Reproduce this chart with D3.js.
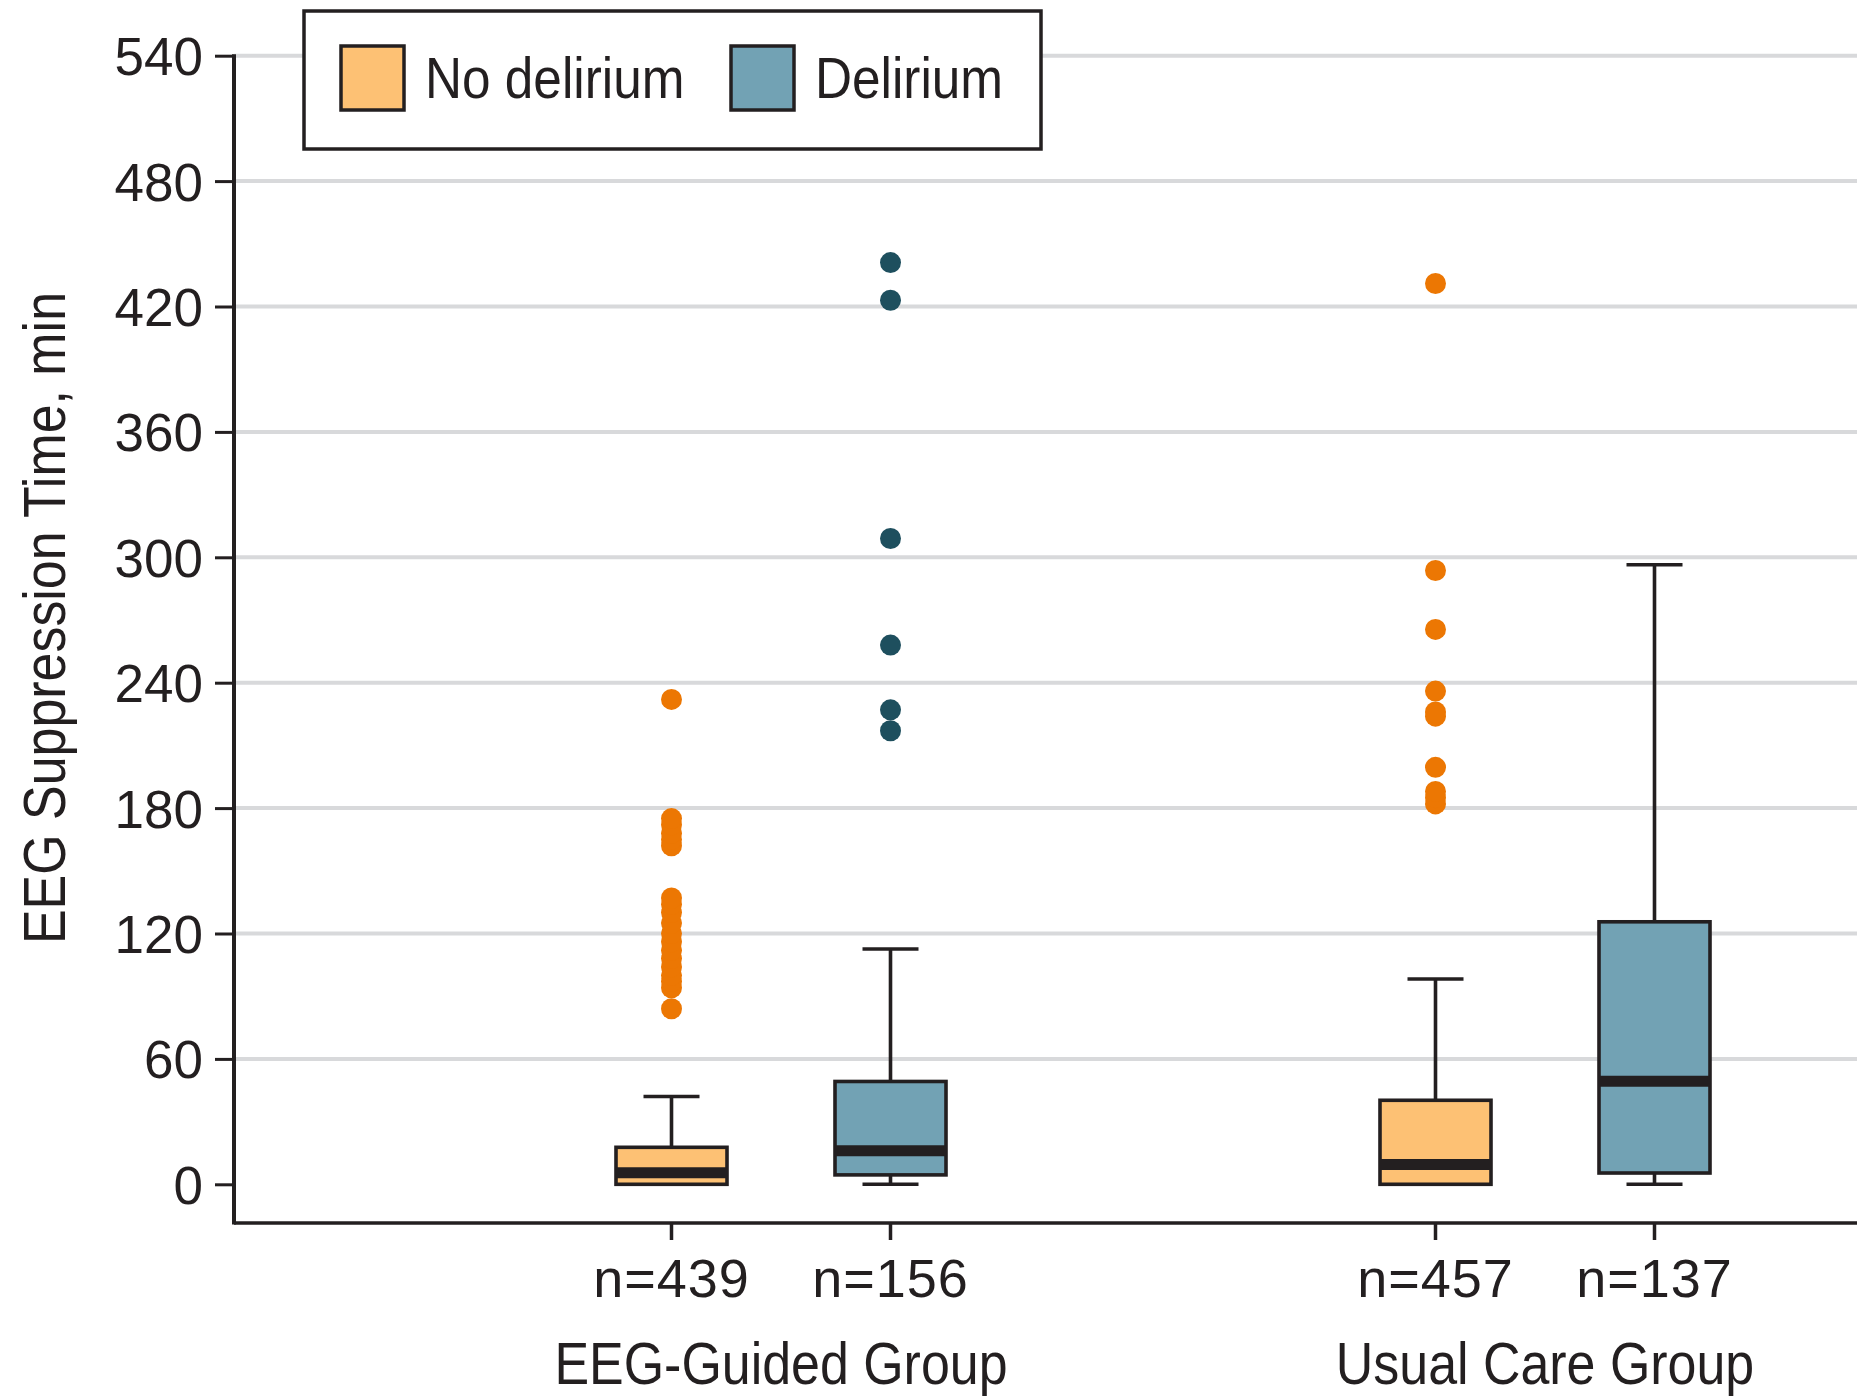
<!DOCTYPE html>
<html>
<head>
<meta charset="utf-8">
<script src="https://cdn.jsdelivr.net/npm/d3@7"></script>
<style>
  html, body { margin: 0; padding: 0; background: #fff; }
  svg { display: block; }
  text { font-family: "Liberation Sans", Arial, sans-serif; fill: #231f20; }
</style>
</head>
<body>
<svg id="chart" width="1857" height="1397"></svg>
<script>
// ---------------- data ----------------
const groups = ["EEG-Guided Group", "Usual Care Group"];
const series = ["No delirium", "Delirium"];
const nLabels = [["n=439", "n=156"], ["n=457", "n=137"]];
const yTicks = [0, 60, 120, 180, 240, 300, 360, 420, 480, 540];

// box statistics per group, in series order [No delirium, Delirium]
const whiskerLow  = [[0, 0], [0, 0]];
const q1          = [[0, 4.5], [0, 5.4]];
const medians     = [[5.5, 16], [9.5, 49.3]];
const q3          = [[17.7, 49.2], [40.2, 125.6]];
const whiskerHigh = [[42, 112.6], [98.2, 296.4]];

const outliersEEGNo   = [84, 94, 97, 100, 104, 108, 112, 116, 120, 125, 130, 134, 137, 162, 165, 168, 172, 175, 232];
const outliersEEGDel  = [217, 227, 258, 309, 423, 441];
const outliersUsualNo = [182, 185, 188, 199.5, 224, 226, 236, 265.5, 293.7, 431];
const outliersUsualDel = [];
const outliers = [[outliersEEGNo, outliersEEGDel], [outliersUsualNo, outliersUsualDel]];

// ---------------- styles ----------------
const fills = { "No delirium": "#fdc174", "Delirium": "#72a2b4" };
const dotFills = { "No delirium": "#ec7703", "Delirium": "#1e4f5e" };
const ink = "#231f20";
const gridColor = "#d8d9db";
const condensed = 0.88;   // horizontal squeeze for the condensed label face
const sw = 3.6;           // main stroke width

// ---------------- layout ----------------
const svg = d3.select("#chart");
const axisX = 234;          // y axis position
const axisBottom = 1223;    // x axis position
const rightEdge = 1857;

const y = d3.scaleLinear().domain([0, 540]).range([1184.3, 55.7]);
const x0 = d3.scaleBand().domain(groups).range([399, 1927]).padding(0);
const x1 = d3.scalePoint().domain(series).range([-109.5, 109.5]);
const cx = (g, s) => x0(g) + x0.bandwidth() / 2 + x1(s);

const boxW = 111, capW = 56;

// gridlines
svg.append("g").selectAll("line")
  .data(yTicks.filter(d => d > 0))
  .join("line")
  .attr("x1", axisX).attr("x2", rightEdge)
  .attr("y1", d => y(d)).attr("y2", d => y(d))
  .attr("stroke", gridColor).attr("stroke-width", 4);

// y axis
const yAxis = d3.axisLeft(y).tickValues(yTicks).tickSize(19).tickPadding(12).tickSizeOuter(0);
const yg = svg.append("g").attr("transform", `translate(${axisX},0)`).call(yAxis);
yg.select(".domain").remove();
yg.selectAll(".tick line").attr("stroke", ink).attr("stroke-width", 3);
yg.selectAll(".tick text")
  .attr("fill", ink)
  .style("font-size", "53px")
  .attr("dy", "0.36em");
svg.append("line")
  .attr("x1", axisX).attr("x2", axisX)
  .attr("y1", y(540) - 1.5).attr("y2", axisBottom + 1.5)
  .attr("stroke", ink).attr("stroke-width", 4);

// x axis line
svg.append("line")
  .attr("x1", axisX).attr("x2", rightEdge)
  .attr("y1", axisBottom).attr("y2", axisBottom)
  .attr("stroke", ink).attr("stroke-width", 3.5);

// flatten boxes
const boxes = [];
groups.forEach((g, gi) => series.forEach((s, si) => {
  boxes.push({
    g, s, n: nLabels[gi][si],
    lo: whiskerLow[gi][si], q1: q1[gi][si], med: medians[gi][si],
    q3: q3[gi][si], hi: whiskerHigh[gi][si], out: outliers[gi][si]
  });
}));

// x ticks + n labels
const xt = svg.append("g");
xt.selectAll("line").data(boxes).join("line")
  .attr("x1", d => cx(d.g, d.s)).attr("x2", d => cx(d.g, d.s))
  .attr("y1", axisBottom).attr("y2", axisBottom + 17)
  .attr("stroke", ink).attr("stroke-width", 3.5);
xt.selectAll("text").data(boxes).join("text")
  .attr("x", d => cx(d.g, d.s)).attr("y", 1297)
  .attr("text-anchor", "middle")
  .style("font-size", "54px")
  .style("letter-spacing", "1px")
  .text(d => d.n);

// group labels (condensed)
svg.append("g").selectAll("text").data(groups).join("text")
  .attr("transform", g => `translate(${x0(g) + x0.bandwidth() / 2},1384) scale(${condensed},1)`)
  .attr("text-anchor", "middle")
  .style("font-size", "59px")
  .text(g => g);

// boxes
const bg = svg.append("g").selectAll("g").data(boxes).join("g");
bg.append("line")
  .attr("x1", d => cx(d.g, d.s)).attr("x2", d => cx(d.g, d.s))
  .attr("y1", d => y(d.hi)).attr("y2", d => y(d.q3))
  .attr("stroke", ink).attr("stroke-width", sw);
bg.append("line")
  .attr("x1", d => cx(d.g, d.s)).attr("x2", d => cx(d.g, d.s))
  .attr("y1", d => y(d.q1)).attr("y2", d => y(d.lo))
  .attr("stroke", ink).attr("stroke-width", sw);
bg.append("line")
  .attr("x1", d => cx(d.g, d.s) - capW / 2).attr("x2", d => cx(d.g, d.s) + capW / 2)
  .attr("y1", d => y(d.hi)).attr("y2", d => y(d.hi))
  .attr("stroke", ink).attr("stroke-width", sw);
bg.filter(d => d.q1 > d.lo).append("line")
  .attr("x1", d => cx(d.g, d.s) - capW / 2).attr("x2", d => cx(d.g, d.s) + capW / 2)
  .attr("y1", d => y(d.lo)).attr("y2", d => y(d.lo))
  .attr("stroke", ink).attr("stroke-width", sw);
bg.append("rect")
  .attr("x", d => cx(d.g, d.s) - boxW / 2)
  .attr("width", boxW)
  .attr("y", d => y(d.q3))
  .attr("height", d => y(d.q1) - y(d.q3))
  .attr("fill", d => fills[d.s])
  .attr("stroke", ink).attr("stroke-width", sw);
bg.append("line")
  .attr("x1", d => cx(d.g, d.s) - boxW / 2).attr("x2", d => cx(d.g, d.s) + boxW / 2)
  .attr("y1", d => y(d.med)).attr("y2", d => y(d.med))
  .attr("stroke", ink).attr("stroke-width", 11);
bg.selectAll("circle").data(d => d.out.map(v => ({ v, d }))).join("circle")
  .attr("cx", o => cx(o.d.g, o.d.s))
  .attr("cy", o => y(o.v))
  .attr("r", 10.5)
  .attr("fill", o => dotFills[o.d.s]);

// legend
const lg = svg.append("g");
lg.append("rect")
  .attr("x", 304).attr("y", 11).attr("width", 737).attr("height", 138)
  .attr("fill", "#fff").attr("stroke", ink).attr("stroke-width", 3.5);
const legendX = d3.scaleOrdinal().domain(series).range([341, 731]);
const li = lg.selectAll("g.item").data(series).join("g").attr("class", "item")
  .attr("transform", s => `translate(${legendX(s)},46)`);
li.append("rect")
  .attr("width", 63).attr("height", 64)
  .attr("fill", s => fills[s]).attr("stroke", ink).attr("stroke-width", 3.5);
li.append("text")
  .attr("transform", `translate(84,52) scale(${condensed + 0.02},1)`)
  .style("font-size", "57px")
  .text(s => s);

// y axis title
svg.append("text")
  .attr("transform", `translate(65,618) rotate(-90) scale(${condensed},1)`)
  .attr("text-anchor", "middle")
  .style("font-size", "59px")
  .text("EEG Suppression Time, min");
</script>
</body>
</html>
